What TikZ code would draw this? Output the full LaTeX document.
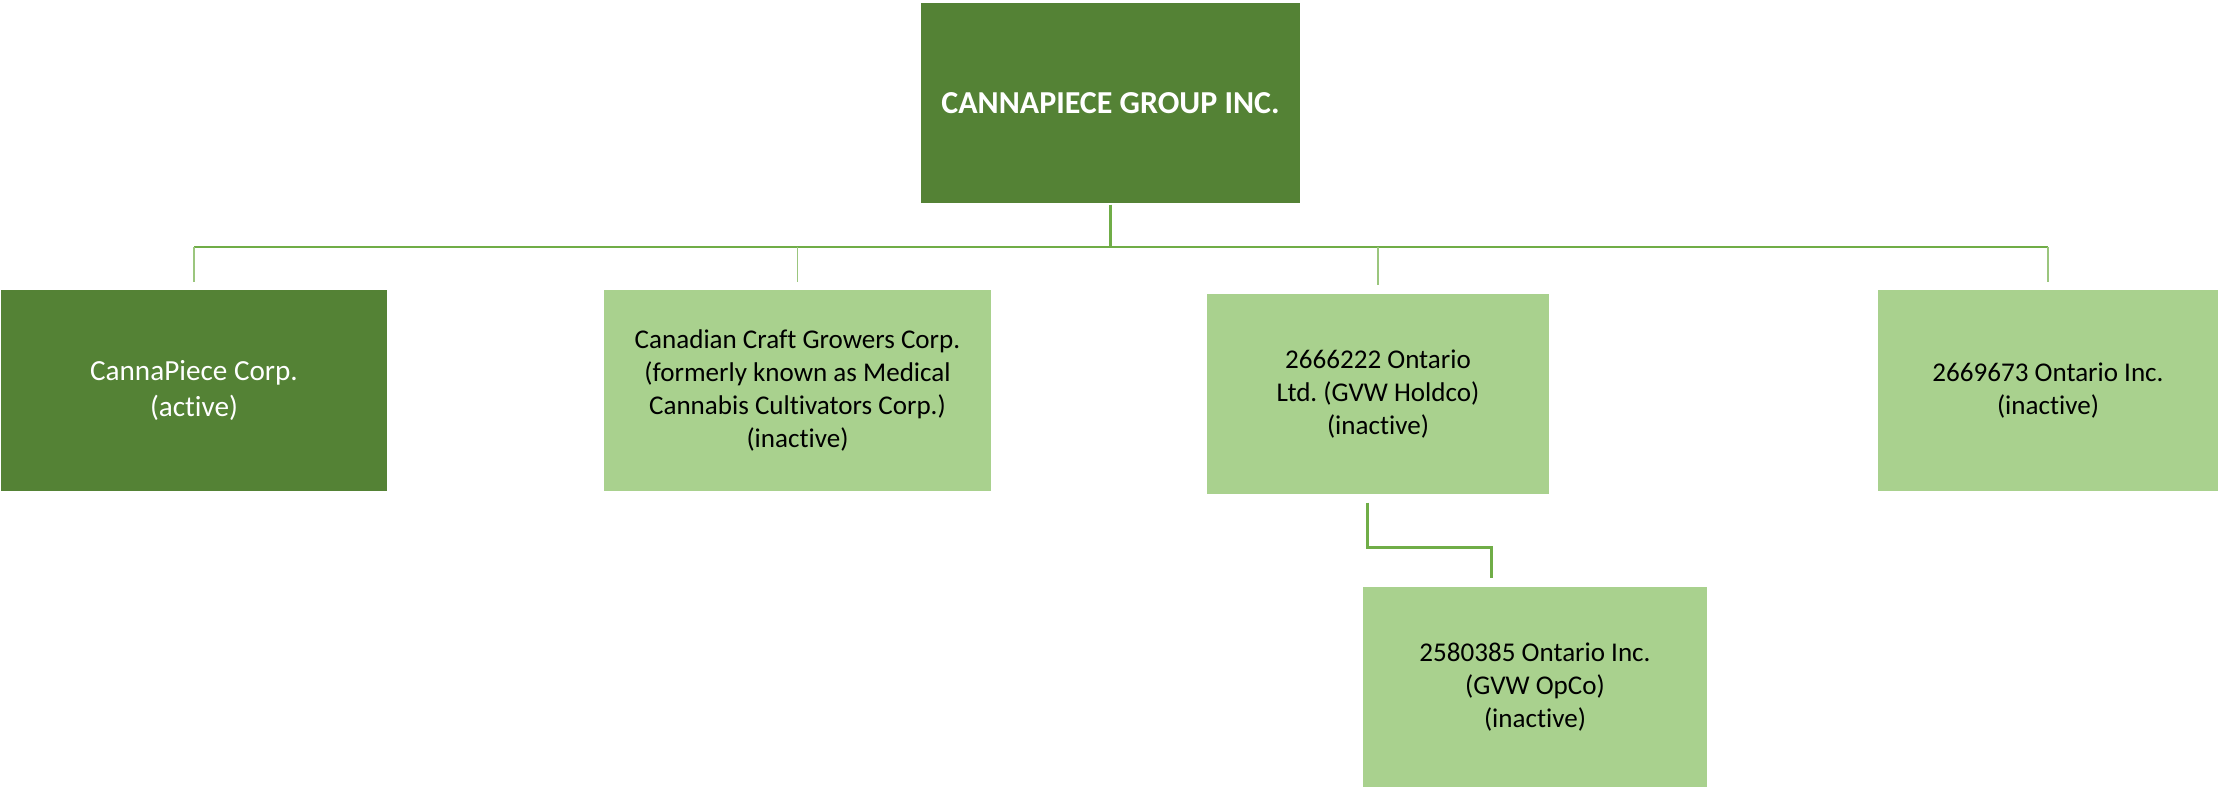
\documentclass[tikz,border=0pt]{standalone}
\usepackage{fontspec}
\setmainfont[Ligatures=NoCommon]{Carlito}
\usetikzlibrary{positioning}
\definecolor{darkleaf}{HTML}{548235}
\definecolor{lightleaf}{HTML}{A9D18E}
\definecolor{linkleaf}{HTML}{70AD47}
\frenchspacing

\begin{document}
\begin{tikzpicture}[
  font=\fontsize{7.7}{9.4}\selectfont,
  unit/.style={draw=white, line width=0.3pt, align=center, inner sep=2pt, minimum height=2.02cm},
  parent/.style={unit, fill=darkleaf, text=white, font=\fontsize{9.1}{11}\selectfont\bfseries},
  active/.style={unit, fill=darkleaf, text=white, font=\fontsize{8.3}{10.1}\selectfont},
  inactive/.style={unit, fill=lightleaf, text=black},
  stem/.style={draw=linkleaf, line width=0.85pt},
  bus/.style={draw=linkleaf, line width=0.55pt},
  drop/.style={draw=linkleaf!70, line width=0.4pt},
]
\useasboundingbox (0,0) rectangle (22.19,-7.88);

% ---- parent
\node[parent, minimum width=3.81cm] (group) at (11.105,-1.03) {CANNAPIECE GROUP INC.};

% ---- subsidiaries
\node[active, minimum width=3.88cm] (corp) at (1.94,-3.905) {CannaPiece Corp.\\(active)};
\node[inactive, minimum width=3.89cm] (craft) at (7.975,-3.905) {Canadian Craft Growers Corp.\\(formerly known as Medical\\Cannabis Cultivators Corp.)\\(inactive)};
\node[inactive, minimum width=3.44cm] (hold) at (13.78,-3.94) {2666222 Ontario\\Ltd. (GVW Holdco)\\(inactive)};
\node[inactive, minimum width=3.42cm] (spare) at (20.48,-3.905) {2669673 Ontario Inc.\\(inactive)};
\node[inactive, minimum width=3.46cm] (opco) at (15.35,-6.87) {2580385 Ontario Inc.\\(GVW OpCo)\\(inactive)};

% ---- connectors
\coordinate (bar) at (0,-2.47);
\draw[stem] (group.south) -- (group.south |- bar);
\draw[bus] (corp.north |- bar) -- (spare.north |- bar);
\foreach \n in {corp,craft,hold,spare}
  \draw[drop] (\n.north |- bar) -- ([yshift=2pt]\n.north);
\draw[stem] ([xshift=-0.11cm,yshift=-2pt]hold.south) -- ++(0,-0.45) -| ([xshift=-0.44cm,yshift=2pt]opco.north);
\end{tikzpicture}
\end{document}
